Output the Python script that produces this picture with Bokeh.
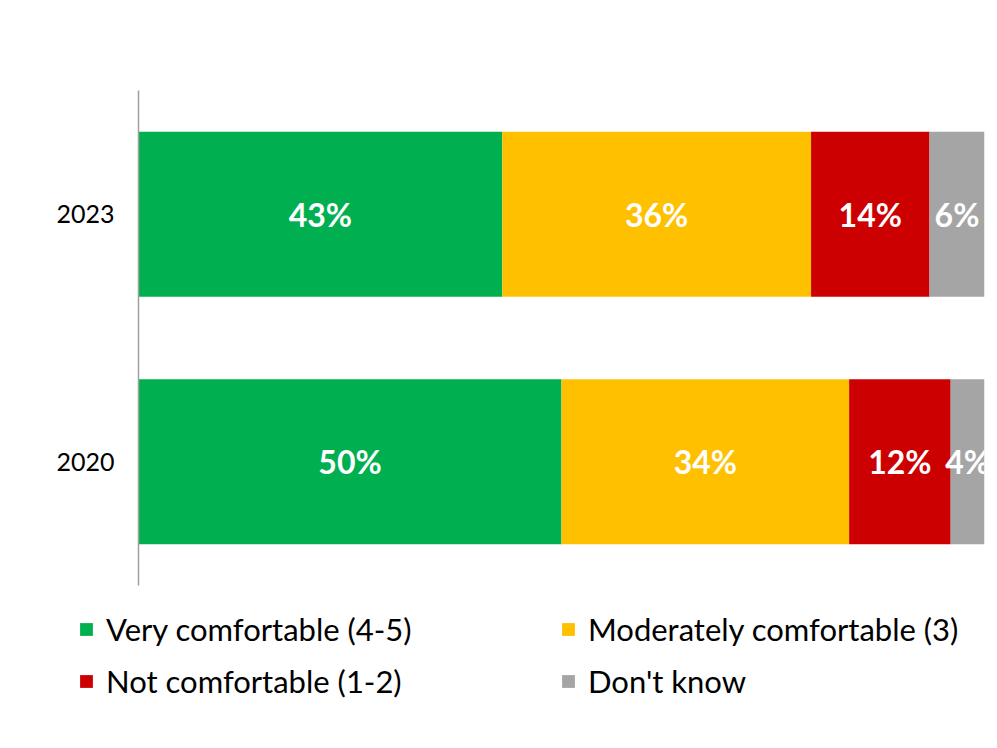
from bokeh.plotting import figure
from bokeh.layouts import column
from bokeh.models import ColumnDataSource, Legend, LegendItem, FactorRange, Range1d
from bokeh.core.properties import value
from bokeh.embed import file_html
from bokeh.resources import INLINE

years = ["2020", "2023"]
series = ["Very comfortable (4-5)", "Moderately comfortable (3)",
          "Not comfortable (1-2)", "Don't know"]
very = [50, 43]
moderate = [34, 36.5]
notc = [12, 14]
dontknow = [4, 6.5]
label_very = ["50%", "43%"]
label_moderate = ["34%", "36%"]
label_notc = ["12%", "14%"]
label_dontknow = ["4%", "6%"]
colors = ["#00B050", "#FFC000", "#CC0000", "#A5A5A5"]

FONT = "Lato"

values = [very, moderate, notc, dontknow]
labels = [label_very, label_moderate, label_notc, label_dontknow]

p = figure(y_range=FactorRange(factors=years), x_range=Range1d(0, 100),
           frame_width=846, frame_height=495,
           min_border_left=138, min_border_right=13, min_border_top=90,
           min_border_bottom=5,
           output_backend="svg", toolbar_location=None)

p.outline_line_color = None
p.xgrid.visible = False
p.ygrid.visible = False
p.xaxis.visible = False
p.yaxis.axis_line_color = "#A0A0A0"
p.yaxis.axis_line_width = 1.5
p.yaxis.major_tick_line_color = None
p.yaxis.minor_tick_line_color = None
p.yaxis.major_label_standoff = 18
p.yaxis.major_label_text_font = FONT
p.yaxis.major_label_text_font_size = "25px"
p.yaxis.major_label_text_color = "#000000"

left = [0.0 for _ in years]
for name, vals, labs, col in zip(series, values, labels, colors):
    right = [l + v for l, v in zip(left, vals)]
    mid = [(l + r) / 2 for l, r in zip(left, right)]
    src = ColumnDataSource(dict(y=years, left=left, right=right, mid=mid, lab=labs))
    p.hbar(y="y", left="left", right="right", height=0.667, source=src,
           fill_color=col, line_color=None)
    p.text(x="mid", y="y", text="lab", source=src, text_color="white",
           text_font=value(FONT), text_font_style="bold", text_font_size="32px",
           text_align="center", text_baseline="middle")
    left = right

# legend strip below the chart (keys drawn from hidden stand-in renderers)
lf = figure(x_range=Range1d(0, 1), y_range=Range1d(0, 1),
            frame_width=997, frame_height=158,
            min_border_left=0, min_border_right=0, min_border_top=0,
            min_border_bottom=0, output_backend="svg", toolbar_location=None)
lf.axis.visible = False
lf.grid.visible = False
lf.outline_line_color = None

items = []
for name, col in zip(series, colors):
    stand_in = ColumnDataSource(dict(y=[-10.0], left=[0.0], right=[0.0]))
    r = lf.hbar(y="y", left="left", right="right", height=1, source=stand_in,
                fill_color=col, line_color=None)
    items.append(LegendItem(label=name, renderers=[r]))

legend = Legend(items=items, orientation="horizontal", ncols=2,
                location=(78, 48),
                glyph_width=16, glyph_height=16, label_standoff=12,
                label_width=440, label_height=35, spacing=14,
                label_text_font=FONT, label_text_font_size="31px",
                label_text_color="#000000",
                border_line_color=None, background_fill_alpha=0,
                padding=10, margin=0)
lf.add_layout(legend, "center")

open("out.html", "w").write(file_html(column(p, lf), INLINE))
